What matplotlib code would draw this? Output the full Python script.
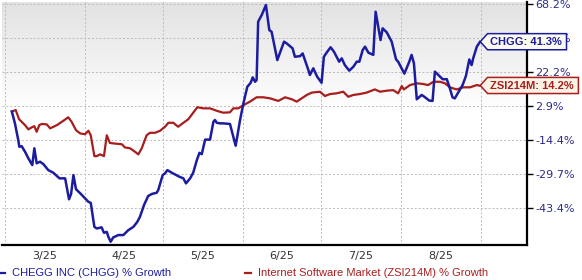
import numpy as np
import pandas as pd
import matplotlib
matplotlib.use("Agg")
import matplotlib.pyplot as plt
from matplotlib.path import Path
from matplotlib.lines import Line2D

# ---------------- data (days after 2025-03-01, % growth) ----------------
start = pd.Timestamp("2025-03-01")

chgg_days = [2.7, 3.9, 5.2, 5.6, 6.5, 7.8, 9.1, 10.6, 11.4, 12.3, 13.6, 14.9, 16.8, 18.7,
             20.1, 21.1, 23.3, 24.8, 25.6, 26.5, 27.5, 29.1, 31.0, 32.3, 33.2, 34.6, 35.5,
             37.4, 38.3, 39.4, 40.0, 40.9, 41.9, 43.9, 45.8, 47.7, 49.7, 51.2, 52.2, 53.8,
             55.4, 56.8, 58.7, 59.3, 61.0, 61.9, 62.8, 64.5, 67.4, 69.0, 70.0, 71.6, 72.8,
             74.2, 75.2, 76.1, 77.4, 79.3, 80.6, 81.2, 81.9, 83.2, 84.4, 87.0, 88.3, 89.2,
             89.8, 90.9, 92.2, 93.7, 95.0, 95.8, 96.7, 97.3, 97.9, 99.3, 100.9, 102.2, 103.1,
             105.3, 107.9, 108.9, 111.2, 112.1, 114.1, 115.1, 117.3, 117.9, 119.2, 120.7,
             122.4, 123.3, 124.6, 125.9, 127.2, 129.2, 130.2, 131.4, 133.1, 134.7, 136.0,
             137.0, 138.3, 139.2, 140.5, 142.4, 143.3, 145.2, 146.0, 147.6, 149.5, 151.2,
             152.0, 154.4, 156.3, 157.2, 158.1, 159.2, 161.1, 162.4, 164.0, 165.3, 166.2,
             167.5, 169.2, 170.8, 172.0, 173.0, 173.9, 175.2, 176.9, 178.2, 179.5, 180.4,
             181.0, 182.4, 183.6]
chgg_vals = [0.0, -6.1, -14.4, -17.5, -17.2, -19.8, -22.8, -25.8, -18.2, -25.0, -24.3, -25.4,
             -28.0, -29.1, -30.5, -31.5, -31.5, -40.0, -37.9, -30.1, -36.0, -37.6, -39.6,
             -41.0, -41.4, -50.3, -50.9, -50.5, -52.4, -52.1, -53.8, -55.5, -54.0, -53.2,
             -53.2, -51.5, -50.3, -48.5, -46.7, -42.2, -38.7, -37.9, -37.4, -36.3, -30.1,
             -29.4, -28.0, -29.1, -30.8, -31.5, -33.6, -31.5, -29.1, -23.6, -20.3, -20.9,
             -14.1, -14.1, -5.3, -4.4, -5.8, -6.1, -6.1, -6.4, -12.8, -17.0, -12.8, -4.4,
             4.4, 13.6, 15.9, 19.1, 16.5, 17.5, 55.3, 60.2, 67.5, 49.4, 48.2, 29.6, 41.5,
             40.4, 37.1, 31.7, 32.1, 33.8, 23.5, 20.5, 24.5, 19.5, 15.9, 31.7, 34.9, 37.8,
             34.9, 28.6, 30.7, 26.5, 23.1, 25.5, 28.6, 28.6, 36.0, 38.2, 34.3, 32.9, 62.5,
             42.6, 50.6, 47.8, 41.5, 30.0, 28.6, 21.3, 28.6, 32.9, 27.6, 6.6, 9.0, 7.7, 5.9,
             5.7, 22.5, 20.5, 18.0, 18.0, 12.7, 7.7, 7.1, 10.3, 14.6, 19.9, 30.0, 26.5,
             30.7, 38.2, 41.3]

zsi_days = [2.7, 4.2, 5.5, 6.5, 7.8, 9.1, 10.4, 11.4, 12.3, 13.3, 14.3, 16.2, 17.5, 20.1,
            22.6, 24.5, 25.8, 27.5, 29.1, 31.0, 32.3, 33.2, 34.6, 35.5, 36.8, 38.3, 39.4,
            40.6, 42.6, 45.2, 46.4, 48.4, 50.3, 51.6, 52.9, 54.8, 56.1, 58.0, 60.0, 61.9,
            63.2, 65.1, 67.0, 69.0, 70.9, 72.8, 74.4, 76.7, 79.3, 81.9, 84.4, 87.0, 88.3,
            90.2, 92.2, 94.7, 97.3, 99.9, 102.5, 105.7, 108.3, 110.9, 112.8, 116.7, 118.6,
            121.8, 123.7, 125.7, 128.2, 130.8, 132.7, 134.7, 137.2, 139.8, 143.0, 145.0,
            147.6, 150.1, 152.0, 153.4, 154.2, 156.6, 159.2, 161.7, 163.6, 165.6, 168.2,
            170.1, 172.0, 174.6, 177.2, 179.8, 182.4, 183.6]
zsi_vals = [0.0, 0.8, -4.0, -5.3, -7.0, -9.1, -8.1, -7.5, -10.3, -7.0, -6.4, -6.6, -8.6,
            -7.0, -4.8, -3.0, -5.3, -9.5, -11.1, -11.5, -9.8, -12.0, -21.8, -21.8, -21.0,
            -21.8, -12.0, -15.7, -16.0, -16.3, -17.8, -18.2, -19.8, -21.0, -18.2, -12.0,
            -10.8, -10.8, -9.8, -7.8, -5.8, -5.8, -7.8, -5.8, -4.0, -0.6, 2.3, 1.7, 1.7,
            0.4, -0.6, -0.4, 1.7, 1.7, 3.4, 5.3, 7.7, 7.7, 7.1, 5.7, 7.7, 6.6, 5.3, 9.0,
            10.3, 10.8, 8.4, 9.5, 9.9, 10.8, 8.0, 9.0, 9.5, 10.3, 12.1, 10.8, 11.4, 11.7,
            9.9, 14.0, 12.1, 14.6, 15.6, 15.2, 14.6, 16.5, 16.5, 15.6, 13.3, 12.1, 13.3,
            13.3, 14.6, 14.2]

y_ticks = [-43.4, -29.7, -14.4, 2.9, 22.2, 43.9, 68.2]
month_labels = ["3/25", "4/25", "5/25", "6/25", "7/25", "8/25"]
chgg_label = "CHGG: 41.3%"
zsi_label = "ZSI214M: 14.2%"
legend_chgg = "CHEGG INC (CHGG) % Growth"
legend_zsi = "Internet Software Market (ZSI214M) % Growth"

BLUE = "#1c1ca0"
RED = "#a81e1e"
NAVY = "#2a2a8a"

chgg_x = start + pd.to_timedelta(chgg_days, unit="D")
zsi_x = start + pd.to_timedelta(zsi_days, unit="D")

# chart uses a log-like growth axis
C = 156.2
def fwd(v):
    return np.log(np.maximum(np.asarray(v, dtype=float) + C, 1e-6))
def inv(y):
    return np.exp(y) - C


def tag_box(x0, y0, width, height, mutation_size):
    pad = 0.25 * mutation_size
    x0 -= pad
    y0 -= pad
    width += 2.6 * pad
    height += 2.2 * pad
    x1, y1 = x0 + width, y0 + height
    tip = 0.45 * height
    verts = [(x0, y0), (x1, y0), (x1, y1), (x0, y1), (x0 - tip, y0 + height / 2), (x0, y0)]
    return Path(verts, closed=True)


fig = plt.figure(figsize=(5.82, 2.80), dpi=100)
ax = fig.add_axes([2 / 582, 35 / 280, 525 / 582, 243 / 280])

# background gradient (light grey at top fading to white)
grad = np.concatenate([np.linspace(0.885, 1.0, 46), np.ones(54)])[:, None]
ax.imshow(grad, extent=[0, 1, 0, 1], transform=ax.transAxes, cmap="gray",
          vmin=0, vmax=1, aspect="auto", zorder=0)

ax.plot(zsi_x, zsi_vals, color=RED, lw=1.6, zorder=3)
ax.plot(chgg_x, chgg_vals, color=BLUE, lw=1.8, zorder=4)

ax.set_yscale("function", functions=(fwd, inv))
ax.set_ylim(-56.6, 69.8)
ax.set_xlim(start - pd.Timedelta(days=1.1), start + pd.Timedelta(days=201.8))

ax.yaxis.tick_right()
ax.set_yticks(y_ticks)
ax.set_yticklabels([f"{t:.1f}%" for t in y_ticks])
ax.yaxis.set_minor_locator(matplotlib.ticker.NullLocator())
ax.tick_params(axis="y", which="major", length=4, width=1, color="black",
               labelsize=8, labelcolor=NAVY, pad=2)

month_starts = pd.date_range("2025-03-01", "2025-09-01", freq="MS")
mid_months = [m + (m + pd.offsets.MonthBegin(1) - m) / 2 for m in month_starts[:-1]]
ax.set_xticks(mid_months)
ax.set_xticklabels(month_labels)
ax.set_xticks(month_starts, minor=True)
ax.tick_params(axis="x", which="both", length=0, labelsize=8, labelcolor="#333333", pad=4)

ax.set_axisbelow(True)
ax.grid(False)
ax.grid(True, axis="x", which="minor", color="#bbbbbb", lw=0.7, ls=(0, (2, 2)))
ax.grid(True, axis="y", which="major", color="#bbbbbb", lw=0.7, ls=(0, (2, 2)))

for s in ["left", "top"]:
    ax.spines[s].set_visible(False)
for s in ["right", "bottom"]:
    ax.spines[s].set_color("black")
    ax.spines[s].set_linewidth(1.6)

# end labels
ax.annotate(chgg_label, xy=(chgg_x[-1], chgg_vals[-1]), xytext=(7.5, 0),
            textcoords="offset points", ha="left", va="center", fontsize=8,
            fontweight="bold", family="Liberation Sans", color=BLUE, zorder=6,
            annotation_clip=False,
            bbox=dict(boxstyle=tag_box, fc="#fbfbee", ec=BLUE, lw=1.1))
ax.annotate(zsi_label, xy=(zsi_x[-1], zsi_vals[-1]), xytext=(7.5, 0),
            textcoords="offset points", ha="left", va="center", fontsize=8,
            fontweight="bold", family="Liberation Sans", color=RED, zorder=6,
            annotation_clip=False,
            bbox=dict(boxstyle=tag_box, fc="#fbf3e6", ec=RED, lw=1.1))

# legend below
fig.add_artist(Line2D([0 / 582, 5 / 582], [1 - 273 / 280] * 2, color=BLUE, lw=1.6))
fig.text(12 / 582, 1 - 273 / 280, legend_chgg, color=BLUE, fontsize=8,
         family="Liberation Sans", va="center", ha="left")
fig.add_artist(Line2D([245 / 582, 251 / 582], [1 - 273 / 280] * 2, color=RED, lw=1.6))
fig.text(258 / 582, 1 - 273 / 280, legend_zsi, color=RED, fontsize=8,
         family="Liberation Sans", va="center", ha="left")

fig.savefig("out.png", dpi=100)
